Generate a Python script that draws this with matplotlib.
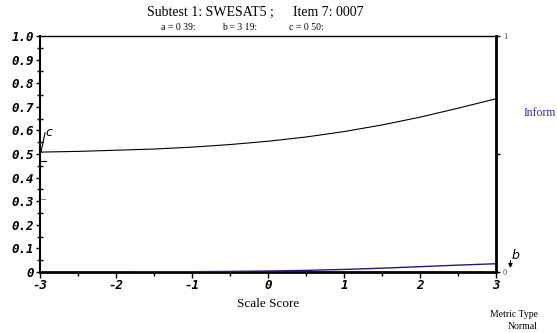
import matplotlib.pyplot as plt
from matplotlib.ticker import MultipleLocator

# values (theta, probability, information)
theta = [-3.0, -2.5, -2.0, -1.5, -1.0, -0.5, 0.0, 0.5, 1.0, 1.5, 2.0, 2.5, 3.0]
prob = [0.508, 0.511, 0.516, 0.521, 0.529, 0.540, 0.554, 0.572, 0.595, 0.623, 0.656, 0.694, 0.734]
info = [0.0001, 0.0002, 0.0004, 0.0007, 0.0013, 0.0024, 0.0041, 0.0068, 0.0108, 0.0161, 0.0225, 0.0291, 0.0350]

x_ticks = [-3, -2, -1, 0, 1, 2, 3]
y_ticks = [0, 0.1, 0.2, 0.3, 0.4, 0.5, 0.6, 0.7, 0.8, 0.9, 1.0]
y_labels = ['0', '0.1', '0.2', '0.3', '0.4', '0.5', '0.6', '0.7', '0.8', '0.9', '1.0']

serif = 'Liberation Serif'
tickfont = dict(family='DejaVu Sans Mono', weight='bold', style='oblique', size=9)

fig = plt.figure(figsize=(5.57, 3.33), dpi=100)
ax = fig.add_axes([0.0718, 0.1832, 0.8187, 0.7087])
ax.plot(theta, prob, color='black', lw=0.8)
ax.set_xlim(-3, 3)
ax.set_ylim(0, 1)
ax.set_xticks(x_ticks)
ax.set_xticklabels([str(v) for v in x_ticks], fontdict=tickfont)
ax.set_yticks(y_ticks)
ax.set_yticklabels(y_labels, fontdict=tickfont)
ax.xaxis.set_minor_locator(MultipleLocator(0.5))
ax.yaxis.set_minor_locator(MultipleLocator(0.05))
ax.tick_params(axis='y', which='major', direction='out', length=3, width=1, pad=1)
ax.tick_params(axis='y', which='minor', direction='inout', length=5, width=1)
ax.tick_params(axis='x', which='major', direction='out', length=4, width=1, pad=1)
ax.tick_params(axis='x', which='minor', direction='out', length=3, width=1)
ax.spines['left'].set_linewidth(1.5)
ax.spines['bottom'].set_linewidth(2)
ax.spines['top'].set_linewidth(1)
ax.spines['right'].set_visible(False)

ax2 = ax.twinx()
ax2.plot(theta, info, color='#1c1c80', lw=1)
ax2.set_ylim(0, 1)
ax2.set_yticks([0, 0.5, 1])
ax2.set_yticklabels(['0', '', '1'], fontfamily=serif, fontsize=6, color='#444444')
ax2.tick_params(axis='y', direction='out', length=3, width=1, pad=2)
ax2.spines['right'].set_linewidth(2)
for s in ['left', 'top', 'bottom']:
    ax2.spines[s].set_visible(False)

# guessing parameter marker
ax.plot([-2.987, -2.934], [0.508, 0.589], color='black', lw=0.8, clip_on=False)
ax.text(-2.93, 0.589, 'c', fontsize=9, style='italic', va='center', ha='left')
ax.plot([-3, -2.92], [0.47, 0.47], color='black', lw=0.8)
ax.plot([-3, -2.93], [0.309, 0.309], color='#888888', lw=0.8)

# difficulty marker (beyond right edge)
ax.annotate('', xy=(3.19, 0.005), xytext=(3.19, 0.06),
            arrowprops=dict(arrowstyle='-|>', color='black', lw=0.8, mutation_scale=6),
            annotation_clip=False)
ax.text(3.2, 0.072, 'b', fontsize=9, style='italic', va='center', ha='left', clip_on=False)

fig.text(0.264, 0.962, 'Subtest 1: SWESAT5 ;', ha='left', va='center', family=serif, fontsize=10)
fig.text(0.526, 0.962, 'Item 7: 0007', ha='left', va='center', family=serif, fontsize=10)
fig.text(0.289, 0.918, 'a = 0 39:', ha='left', va='center', family=serif, fontsize=7)
fig.text(0.399, 0.918, 'b = 3 19:', ha='left', va='center', family=serif, fontsize=7)
fig.text(0.519, 0.918, 'c = 0 50:', ha='left', va='center', family=serif, fontsize=7)
fig.text(0.481, 0.087, 'Scale Score', ha='center', va='center', family=serif, fontsize=9.5)
fig.text(0.940, 0.66, 'Inform', ha='left', va='center', family=serif, fontsize=8.5,
         color='#3030a0')
fig.text(0.965, 0.057, 'Metric Type', ha='right', va='center', family=serif, fontsize=7)
fig.text(0.965, 0.021, 'Normal', ha='right', va='center', family=serif, fontsize=7)

fig.savefig('out.png', dpi=100)
